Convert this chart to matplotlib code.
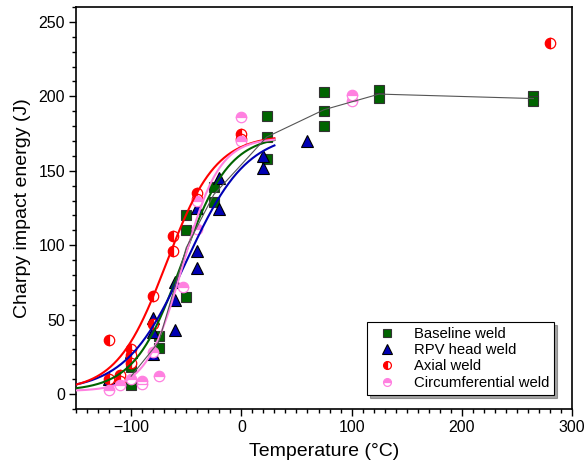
import numpy as np
import matplotlib.pyplot as plt
from matplotlib.ticker import MultipleLocator

plt.rcParams['font.family'] = ['Liberation Sans', 'DejaVu Sans']

# Charpy data, temperature (C) / absorbed energy (J)
base_T = [-100, -100, -75, -75, -50, -50, -50, -25, -25, 23, 23, 23, 75, 75, 75, 125, 125, 265, 265]
base_E = [6, 18, 31, 39, 65, 110, 120, 139, 129, 187, 173, 158, 203, 190, 180, 204, 199, 200, 197]

rpv_T = [-120, -100, -80, -80, -80, -60, -60, -60, -40, -40, -40, -20, -20, 20, 20, 60]
rpv_E = [10, 28, 51, 42, 27, 75, 63, 43, 125, 96, 85, 145, 124, 160, 152, 170]

axial_T = [-120, -120, -110, -110, -100, -100, -100, -80, -80, -62, -62, -40, -40, 0, 0, 280]
axial_E = [36, 10, 13, 9, 30, 26, 21, 66, 47, 106, 96, 135, 131, 175, 171, 236]

circ_T = [-120, -110, -100, -90, -90, -80, -75, -53, -40, -40, 0, 0, 100, 100]
circ_E = [3, 6, 10, 9, 7, 28, 12, 72, 130, 111, 186, 170, 201, 197]

# tanh fit parameters  E = A + B*tanh((T - T0)/C)
fit_A = {'base': 88, 'rpv': 89, 'axial': 88, 'circ': 87}
fit_B = {'base': 86, 'rpv': 87, 'axial': 86, 'circ': 85}
fit_T0 = {'base': -54, 'rpv': -50, 'axial': -68, 'circ': -53}
fit_C = {'base': 43, 'rpv': 55, 'axial': 45, 'circ': 33}

c_green = '#006400'
c_blue = '#0000B4'
c_red = '#FF0000'
c_pink = '#FF80E0'

fig = plt.figure(figsize=(5.87, 4.72), dpi=100)
ax = fig.add_axes([0.1295, 0.1335, 0.845, 0.8517])

ax.plot(base_T, base_E, ls='none', marker='s', ms=7.2, mfc=c_green, mec='#333333', mew=0.8,
        label='Baseline weld', zorder=3)
ax.plot(rpv_T, rpv_E, ls='none', marker='^', ms=9, mfc=c_blue, mec='black', mew=0.8,
        label='RPV head weld', zorder=3)
ax.plot(axial_T, axial_E, ls='none', marker='o', ms=7.5, fillstyle='left', mfc=c_red,
        markerfacecoloralt='white', mec=c_red, mew=0.9, label='Axial weld', zorder=3)
ax.plot(circ_T, circ_E, ls='none', marker='o', ms=7.5, fillstyle='top', mfc=c_pink,
        markerfacecoloralt='white', mec=c_pink, mew=0.9, label='Circumferential weld', zorder=3)

# fitted transition curves
T = np.linspace(-150, 30, 300)
for key, col in [('base', c_green), ('rpv', c_blue), ('axial', c_red), ('circ', c_pink)]:
    E = fit_A[key] + fit_B[key] * np.tanh((T - fit_T0[key]) / fit_C[key])
    ax.plot(T, E, color=col, lw=1.5, zorder=4)

# mean of baseline weld at each test temperature
uT = np.unique(base_T)
mE = [np.mean([e for t, e in zip(base_T, base_E) if t == u]) for u in uT]
ax.plot(uT, mE, color='#555555', lw=0.8, zorder=5)

ax.set_xlim(-150, 300)
ax.set_ylim(-10, 260)
ax.xaxis.set_major_locator(MultipleLocator(100))
ax.xaxis.set_minor_locator(MultipleLocator(10))
ax.yaxis.set_major_locator(MultipleLocator(50))
ax.yaxis.set_minor_locator(MultipleLocator(10))
ax.tick_params(which='major', direction='out', length=5, width=1, labelsize=11.5, pad=3)
ax.tick_params(which='minor', direction='out', length=3, width=1)
for s in ax.spines.values():
    s.set_linewidth(1.2)

ax.set_xlabel('Temperature (\u00b0C)', fontsize=14, labelpad=6)
ax.set_ylabel('Charpy impact energy (J)', fontsize=14, labelpad=5)

leg = ax.legend(loc='lower right', bbox_to_anchor=(0.964, 0.035), borderaxespad=0, fontsize=10.7,
                frameon=True, fancybox=False, shadow=True, edgecolor='black', framealpha=1,
                handletextpad=0.8, borderpad=0.35, labelspacing=0.15, markerscale=0.75)
leg.get_frame().set_linewidth(0.8)

fig.savefig('out.png', dpi=100)
